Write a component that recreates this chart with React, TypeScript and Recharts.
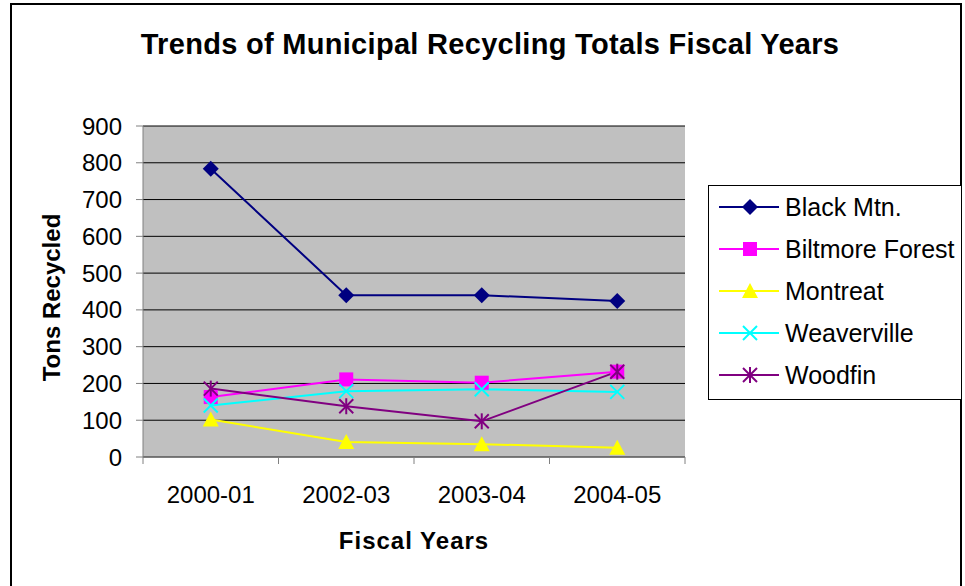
import { CartesianGrid, Line, LineChart, XAxis, YAxis } from "recharts";

const fiscalYears = ["2000-01", "2002-03", "2003-04", "2004-05"];
const blackMtn = [784, 440, 440, 424];
const biltmoreForest = [163, 211, 202, 232];
const montreat = [102, 41, 35, 25];
const weaverville = [140, 179, 184, 177];
const woodfin = [186, 138, 97, 232];
const yTicks = [0, 100, 200, 300, 400, 500, 600, 700, 800, 900];

const FONT = '"Liberation Sans", Arial, sans-serif';

const series = [
  { key: "blackMtn", name: "Black Mtn.", color: "#000080", shape: "diamond", values: blackMtn },
  { key: "biltmore", name: "Biltmore Forest", color: "#FF00FF", shape: "square", values: biltmoreForest },
  { key: "montreat", name: "Montreat", color: "#FFFF00", shape: "triangle", values: montreat },
  { key: "weaverville", name: "Weaverville", color: "#00FFFF", shape: "x", values: weaverville },
  { key: "woodfin", name: "Woodfin", color: "#800080", shape: "star", values: woodfin },
];

const data = fiscalYears.map((year, i) => {
  const row: Record<string, string | number> = { year };
  series.forEach((s) => {
    row[s.key] = s.values[i];
  });
  return row;
});

function Marker({ cx, cy, shape, color }: { cx: number; cy: number; shape: string; color: string }) {
  if (cx == null || cy == null) return null;
  switch (shape) {
    case "diamond":
      return <polygon points={`${cx},${cy - 8} ${cx + 8},${cy} ${cx},${cy + 8} ${cx - 8},${cy}`} fill={color} />;
    case "square":
      return <rect x={cx - 7} y={cy - 7} width={14} height={14} fill={color} />;
    case "triangle":
      return <polygon points={`${cx},${cy - 8} ${cx + 8},${cy + 7} ${cx - 8},${cy + 7}`} fill={color} />;
    case "x":
      return (
        <g stroke={color} strokeWidth={2}>
          <line x1={cx - 7} y1={cy - 7} x2={cx + 7} y2={cy + 7} />
          <line x1={cx - 7} y1={cy + 7} x2={cx + 7} y2={cy - 7} />
        </g>
      );
    default:
      return (
        <g stroke={color} strokeWidth={2}>
          <line x1={cx - 7} y1={cy - 7} x2={cx + 7} y2={cy + 7} />
          <line x1={cx - 7} y1={cy + 7} x2={cx + 7} y2={cy - 7} />
          <line x1={cx} y1={cy - 8} x2={cx} y2={cy + 8} />
        </g>
      );
  }
}

function XTick(props: any) {
  const { x, y, payload, index, visibleTicksCount } = props;
  const half = payload.offset ?? 0;
  const top = y - 8;
  return (
    <g>
      <line x1={x - half} y1={top} x2={x - half} y2={top + 7} stroke="#808080" />
      {index === visibleTicksCount - 1 && (
        <line x1={x + half} y1={top} x2={x + half} y2={top + 7} stroke="#808080" />
      )}
      <text x={x} y={y + 38} textAnchor="middle" fontSize={24} fontFamily={FONT} fill="#000">
        {payload.value}
      </text>
    </g>
  );
}

function LegendBox() {
  return (
    <div
      style={{
        position: "absolute",
        left: 708,
        top: 185,
        border: "1px solid #000",
        background: "#fff",
        width: 254,
        height: 215,
        boxSizing: "border-box",
        fontFamily: FONT,
      }}
    >
      {series.map((s) => (
        <div key={s.key} style={{ display: "flex", alignItems: "center", height: 42 }}>
          <svg width={64} height={20} style={{ marginLeft: 8 }}>
            <line x1={2} y1={10} x2={62} y2={10} stroke={s.color} strokeWidth={2} />
            <Marker cx={33} cy={10} shape={s.shape} color={s.color} />
          </svg>
          <span style={{ fontSize: 25, marginLeft: 4, color: "#000", whiteSpace: "nowrap" }}>{s.name}</span>
        </div>
      ))}
    </div>
  );
}

export default function App() {
  return (
    <div style={{ position: "absolute", left: 0, top: 0, width: 965, height: 586, overflow: "hidden", background: "#fff" }}>
      <div
        style={{
          position: "absolute",
          left: 10,
          top: 3,
          width: 952,
          height: 640,
          border: "2px solid #000",
          boxSizing: "border-box",
        }}
      />
      <div
        style={{
          position: "absolute",
          left: 0,
          top: 28,
          width: 980,
          textAlign: "center",
          fontFamily: FONT,
          fontWeight: "bold",
          fontSize: 29,
          letterSpacing: 0.3,
          color: "#000",
        }}
      >
        Trends of Municipal Recycling Totals Fiscal Years
      </div>
      <LineChart
        width={965}
        height={586}
        data={data}
        margin={{ top: 126, right: 280, bottom: 79, left: 43 }}
        style={{ position: "absolute", left: 0, top: 0 }}
      >
        <CartesianGrid vertical={false} stroke="#000" fill="#C0C0C0" fillOpacity={1} />
        <XAxis
          dataKey="year"
          scale="band"
          stroke="#808080"
          height={50}
          tickLine={false}
          tick={<XTick />}
          interval={0}
          label={{
            content: ({ viewBox }: any) => (
              <text
                x={viewBox.x + viewBox.width / 2}
                y={viewBox.y + 92}
                textAnchor="middle"
                fontFamily={FONT}
                fontWeight="bold"
                fontSize={24}
                letterSpacing={1}
                fill="#000"
              >
                Fiscal Years
              </text>
            ),
          }}
        />
        <YAxis
          width={100}
          domain={[0, 900]}
          ticks={yTicks}
          interval={0}
          stroke="#808080"
          tickSize={7}
          tickMargin={14}
          tick={{ fill: "#000", fontSize: 24, fontFamily: FONT }}
          label={{
            content: ({ viewBox }: any) => {
              const cy = viewBox.y + viewBox.height / 2 + 6;
              return (
                <text
                  x={60}
                  y={cy}
                  transform={`rotate(-90, 60, ${cy})`}
                  textAnchor="middle"
                  fontFamily={FONT}
                  fontWeight="bold"
                  fontSize={24}
                  fill="#000"
                >
                  Tons Recycled
                </text>
              );
            },
          }}
        />
        <YAxis
          yAxisId="frame"
          orientation="right"
          width={0}
          domain={[0, 900]}
          ticks={[]}
          stroke="#808080"
          tick={false}
        />
        {series.map((s) => (
          <Line
            key={s.key}
            dataKey={s.key}
            name={s.name}
            stroke={s.color}
            strokeWidth={2}
            type="linear"
            isAnimationActive={false}
            dot={(p: any) => <Marker key={`${s.key}-${p.index}`} cx={p.cx} cy={p.cy} shape={s.shape} color={s.color} />}
            activeDot={false}
          />
        ))}
      </LineChart>
      <LegendBox />
    </div>
  );
}
